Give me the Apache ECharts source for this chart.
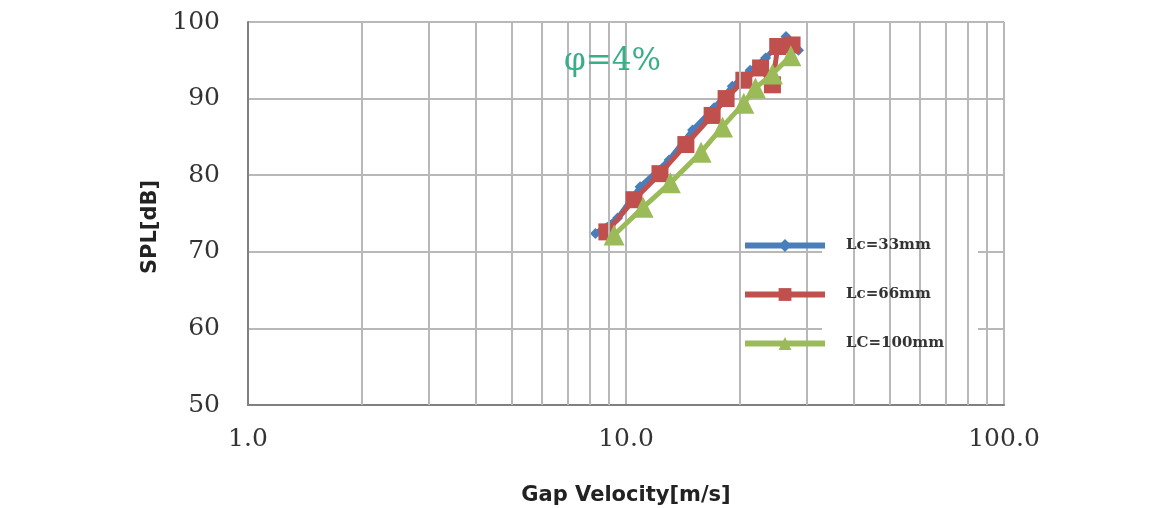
<!DOCTYPE html>
<html><head><meta charset="utf-8">
<script src="https://cdn.jsdelivr.net/npm/echarts@6/dist/echarts.min.js"></script>
<style>html,body{margin:0;padding:0;background:#fff}#c{width:1164px;height:508px}</style>
</head><body><div id="c"></div>
<script>
const seriesNames = ['Lc=33mm', 'Lc=66mm', 'LC=100mm'];
const lc33 = [[8.3,72.4],[9.5,74.4],[10.9,78.5],[13.0,82.0],[15.0,85.9],[17.1,88.8],[19.1,91.6],[21.3,93.7],[23.4,95.3],[26.5,98.1],[28.6,96.3]];
const lc66 = [[8.9,72.6],[10.5,76.8],[12.3,80.2],[14.4,84.0],[16.9,87.8],[18.4,90.0],[20.5,92.4],[22.7,94.0],[24.4,91.8],[25.2,96.8],[27.5,97.0]];
const lc100 = [[9.3,72.2],[11.1,75.8],[13.1,79.0],[15.8,83.0],[18.0,86.3],[20.5,89.4],[22.0,91.4],[24.4,93.2],[27.3,95.6]];
const minorX = [2,3,4,5,6,7,8,9,20,30,40,50,60,70,80,90];
const annotation = 'φ=4%';
const xTitle = 'Gap Velocity[m/s]';
const yTitle = 'SPL[dB]';

const chart = echarts.init(document.getElementById('c'));
const gridColor = '#b8b8b8';
chart.setOption({
  animation: false,
  backgroundColor: '#fff',
  grid: { left: 248, right: 160, top: 22, bottom: 103, containLabel: false, outerBoundsMode: 'none' },
  xAxis: {
    type: 'log', logBase: 10, min: 1, max: 100,
    name: xTitle, nameLocation: 'middle', nameGap: 80,
    nameTextStyle: { fontFamily: 'DejaVu Sans', fontWeight: 'bold', fontSize: 21, color: '#222' },
    axisLine: { lineStyle: { color: '#808080', width: 2 } },
    axisTick: { show: false },
    axisLabel: { margin: 22, fontFamily: 'DejaVu Serif', fontSize: 25, color: '#333',
      formatter: v => Number(v).toFixed(1) },
    splitLine: { show: true, lineStyle: { color: gridColor, width: 2 } }
  },
  yAxis: {
    type: 'value', min: 50, max: 100, interval: 10,
    name: yTitle, nameLocation: 'middle', nameGap: 84,
    nameTextStyle: { fontFamily: 'DejaVu Sans', fontWeight: 'bold', fontSize: 21, color: '#222', padding: [0, 27, 0, 0] },
    axisLine: { show: true, lineStyle: { color: '#808080', width: 2 } },
    axisTick: { show: false },
    axisLabel: { margin: 28, fontFamily: 'DejaVu Serif', fontSize: 25, color: '#333' },
    splitLine: { show: true, lineStyle: { color: gridColor, width: 2 } }
  },
  legend: {
    data: seriesNames, orient: 'vertical', left: 737, top: 233,
    itemWidth: 80, itemHeight: 16, itemGap: 34, z: 10,
    lineStyle: { width: 6 },
    textStyle: { fontFamily: 'DejaVu Serif', fontSize: 15, fontWeight: 'bold', color: '#333', padding: [0, 0, 0, 16] }
  },
  graphic: [
    { type: 'rect', left: 822, top: 222, shape: { width: 156, height: 143 }, style: { fill: '#fff' }, z: 5 },
    { type: 'text', left: 564, top: 46, z: 6,
      style: { text: annotation, fontFamily: 'DejaVu Serif', fontSize: 31, fill: '#3aae86' } }
  ],
  series: [
    { type: 'line', name: '_minor', data: [], silent: true, z: 1,
      markLine: { silent: true, symbol: 'none', label: { show: false },
        lineStyle: { color: gridColor, width: 2, type: 'solid' },
        data: minorX.map(v => ({ xAxis: v })) } },
    { type: 'line', name: seriesNames[0], data: lc33, symbol: 'diamond', symbolSize: 11,
      color: '#4a7ebb', lineStyle: { width: 5 }, z: 3 },
    { type: 'line', name: seriesNames[1], data: lc66, symbol: 'rect', symbolSize: 17,
      color: '#c0504d', lineStyle: { width: 5 }, z: 4 },
    { type: 'line', name: seriesNames[2], data: lc100, symbol: 'triangle', symbolSize: 21,
      color: '#9bbb59', lineStyle: { width: 5 }, z: 5 }
  ]
});
</script></body></html>
